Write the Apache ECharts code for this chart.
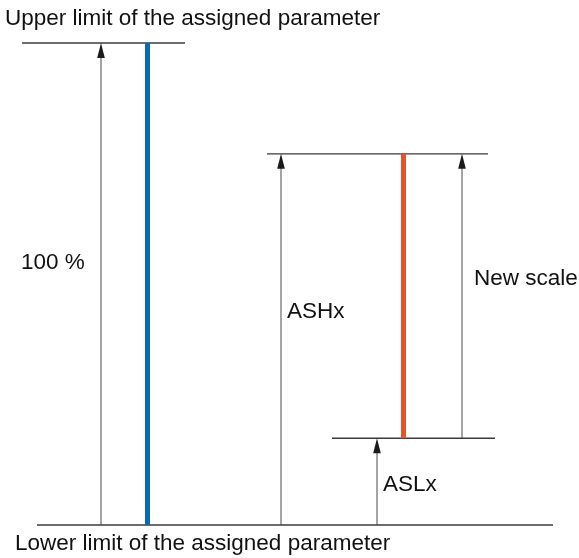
<!DOCTYPE html>
<html>
<head>
<meta charset="utf-8">
<script src="https://cdn.jsdelivr.net/npm/echarts@6/dist/echarts.min.js"></script>
<style>html,body{margin:0;padding:0;background:#fff}#c{width:579px;height:558px}</style>
</head>
<body>
<div id="c"></div>
<script>
// Levels in percent of the assigned parameter range
var lowerLimit = 0;
var upperLimit = 100;
var ashx = 77;
var aslx = 18;
// Bars: original full scale and new scale
var fullScale = [lowerLimit, upperLimit];
var newScale = [aslx, ashx];
var labels = {
  top: 'Upper limit of the assigned parameter',
  bottom: 'Lower limit of the assigned parameter',
  full: '100 %',
  ashx: 'ASHx',
  aslx: 'ASLx',
  news: 'New scale'
};

// layout (horizontal positions, px-like units on the x axis)
var L = {
  topLine: [22, 185], ashLine: [267, 488], aslLine: [332, 495], baseLine: [37, 553],
  arrFull: 101, arrAsh: 281, arrAsl: 377, arrNew: 462,
  barFull: 147.5, barNew: 403.5
};

var chart = echarts.init(document.getElementById('c'));
var font = '"Liberation Sans", Arial, sans-serif';

function renderItem(params, api) {
  var ch = [];
  function P(x, v) { return api.coord([x, v]); }
  function hline(xs, v) {
    var a = P(xs[0], v), b = P(xs[1], v);
    ch.push({type: 'line', shape: {x1: a[0], y1: a[1], x2: b[0], y2: b[1]},
      style: {stroke: '#3a3a3a', lineWidth: 1.4}});
  }
  function arrow(x, v0, v1) {
    var a = P(x, v0), b = P(x, v1);
    var hl = 15, hw = 3.8;
    ch.push({type: 'line', shape: {x1: a[0], y1: a[1], x2: b[0], y2: b[1] + hl - 1},
      style: {stroke: '#4a4a4a', lineWidth: 1}});
    ch.push({type: 'polygon', shape: {points: [[b[0], b[1]], [b[0] - hw, b[1] + hl], [b[0] + hw, b[1] + hl]]},
      style: {fill: '#1a1a1a'}});
  }
  function bar(x, range, color) {
    var a = P(x, range[1]), b = P(x, range[0]);
    ch.push({type: 'rect', shape: {x: a[0] - 2.5, y: a[1], width: 5, height: b[1] - a[1]},
      style: {fill: color}});
  }
  // text centred vertically on the midpoint of two levels, shifted by dy px
  function text(s, x, v0, v1, dy) {
    var p = P(x, v0), q = P(x, v1);
    ch.push({type: 'text', style: {text: s, x: p[0], y: (p[1] + q[1]) / 2 + dy, fill: '#111',
      font: '22.5px ' + font, align: 'left', verticalAlign: 'middle'}});
  }
  hline(L.topLine, upperLimit);
  hline(L.ashLine, ashx);
  hline(L.aslLine, aslx);
  hline(L.baseLine, lowerLimit);
  arrow(L.arrFull, lowerLimit, upperLimit);
  arrow(L.arrAsh, lowerLimit, ashx);
  arrow(L.arrAsl, lowerLimit, aslx);
  arrow(L.arrNew, aslx, ashx);
  bar(L.barFull, fullScale, '#0d68b4');
  bar(L.barNew, newScale, '#e0552b');
  text(labels.top, 5, upperLimit, upperLimit, -24);
  text(labels.bottom, 15, lowerLimit, lowerLimit, 19);
  text(labels.full, 21, lowerLimit, upperLimit, -21);
  text(labels.ashx, 287, lowerLimit, ashx, -28);
  text(labels.news, 474, aslx, ashx, -17);
  text(labels.aslx, 383, lowerLimit, aslx, 3);
  return {type: 'group', children: ch};
}

chart.setOption({
  animation: false,
  grid: {left: 0, right: 0, top: 43, bottom: 33},
  xAxis: {type: 'value', min: 0, max: 579, show: false},
  yAxis: {type: 'value', min: 0, max: 100, show: false},
  series: [{type: 'custom', renderItem: renderItem, data: [[0, 0]], clip: false, silent: true}]
});
</script>
</body>
</html>
